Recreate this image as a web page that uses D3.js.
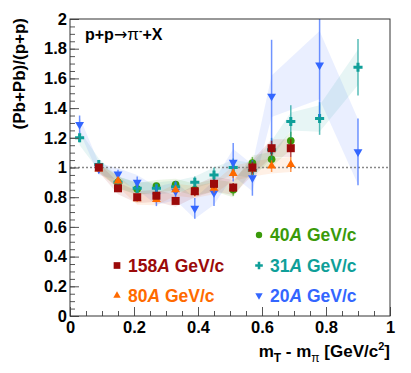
<!DOCTYPE html>
<html>
<head>
<meta charset="utf-8">
<script src="https://cdn.jsdelivr.net/npm/d3@7"></script>
<style>
  body { margin: 0; background: #fff; }
  svg text { font-family: "Liberation Sans", Arial, Helvetica, sans-serif; font-weight: bold; }
</style>
</head>
<body>
<div id="chart"></div>
<script>
// Rapport (Pb+Pb)/(p+p) des pi- en fonction de mT - m_pi

const width = 411;
const height = 373;

// bins en mT - m_pi
const mtBins = [0.03, 0.09, 0.15, 0.21, 0.27, 0.33, 0.39, 0.45, 0.51, 0.57, 0.63, 0.69, 0.78, 0.90];

// 158A GeV/c
const r158 = [null, 1.00, 0.86, 0.80, 0.81, 0.775, 0.84, 0.89, 0.865, 1.00, 1.13, 1.13, null, null];
const e158 = [null, 0.01, 0.02, 0.02, 0.02, 0.02, 0.03, 0.03, 0.03, 0.04, 0.05, 0.06, null, null];
const s158 = [null, 0.03, 0.04, 0.04, 0.04, 0.04, 0.04, 0.05, 0.05, 0.05, 0.06, 0.06, null, null];
// 80A GeV/c
const r80 = [null, 0.99, 0.91, 0.79, 0.785, 0.85, 0.835, 0.86, 0.96, 0.99, 1.01, 1.02, null, null];
const e80 = [null, 0.01, 0.02, 0.02, 0.02, 0.02, 0.03, 0.03, 0.03, 0.04, 0.04, 0.05, null, null];
const s80 = [null, 0.03, 0.04, 0.04, 0.04, 0.04, 0.04, 0.04, 0.05, 0.05, 0.05, 0.05, null, null];
// 40A GeV/c
const r40 = [null, 1.00, 0.90, 0.855, 0.875, 0.885, 0.85, 0.88, 0.85, 1.03, 1.055, 1.18, null, null];
const e40 = [null, 0.01, 0.02, 0.02, 0.02, 0.02, 0.03, 0.03, 0.04, 0.04, 0.05, 0.06, null, null];
const s40 = [null, 0.03, 0.04, 0.04, 0.04, 0.04, 0.04, 0.04, 0.05, 0.05, 0.05, 0.06, null, null];
// 31A GeV/c
const r31 = [1.20, 1.02, 0.90, 0.86, 0.86, 0.87, 0.90, 0.95, 1.00, 0.98, 1.12, 1.31, 1.33, 1.675];
const e31 = [0.03, 0.02, 0.02, 0.03, 0.03, 0.03, 0.04, 0.05, 0.06, 0.07, 0.08, 0.11, 0.11, 0.19];
const s31 = [0.05, 0.04, 0.04, 0.04, 0.04, 0.04, 0.04, 0.05, 0.05, 0.05, 0.06, 0.06, 0.09, 0.12];
// 20A GeV/c
const r20 = [1.29, 0.99, 0.955, 0.90, 0.81, 0.84, 0.725, 0.83, 1.035, 0.93, 1.48, null, 1.69, 1.105];
const e20 = [0.06, 0.03, 0.03, 0.04, 0.07, 0.07, 0.07, 0.09, 0.13, 0.12, 0.38, null, 0.35, 0.225];
const s20 = [0.05, 0.04, 0.04, 0.05, 0.06, 0.06, 0.07, 0.08, 0.09, 0.09, 0.14, null, 0.23, 0.22];

const series = [
  { label: "40", ratio: r40, stat: e40, sys: s40, color: "#3a9a0a", shape: "circle" },
  { label: "31", ratio: r31, stat: e31, sys: s31, color: "#0f9f99", shape: "cross" },
  { label: "20", ratio: r20, stat: e20, sys: s20, color: "#3366ff", shape: "down" },
  { label: "80", ratio: r80, stat: e80, sys: s80, color: "#ff6a00", shape: "up" },
  { label: "158", ratio: r158, stat: e158, sys: s158, color: "#9b0a0a", shape: "square" }
];

const margin = { left: 70, top: 19, right: 21, bottom: 57 };

const x = d3.scaleLinear().domain([0, 1]).range([margin.left, width - margin.right]);
const y = d3.scaleLinear().domain([0, 2]).range([height - margin.bottom, margin.top]);

const svg = d3.select("#chart")
  .append("svg")
  .attr("width", width)
  .attr("height", height);

svg.append("clipPath").attr("id", "clip")
  .append("rect")
  .attr("x", x(0)).attr("y", y(2))
  .attr("width", x(1) - x(0)).attr("height", y(0) - y(2));

const plot = svg.append("g").attr("clip-path", "url(#clip)");

const points = s => mtBins
  .map((m, i) => ({ x: m, y: s.ratio[i], e: s.stat[i], s: s.sys[i] }))
  .filter(d => d.y != null);

// bandes systematiques
const area = d3.area()
  .x(d => x(d.x))
  .y0(d => y(d.y - d.s))
  .y1(d => y(d.y + d.s));

const bandOrder = ["20", "31", "40", "80", "158"];
bandOrder.forEach(lab => {
  const s = series.find(t => t.label === lab);
  plot.append("path")
    .datum(points(s))
    .attr("d", area)
    .attr("fill", s.color)
    .attr("fill-opacity", 0.1);
});

// ligne a 1
plot.append("line")
  .attr("x1", x(0)).attr("x2", x(1))
  .attr("y1", y(1)).attr("y2", y(1))
  .attr("stroke", "#888")
  .attr("stroke-width", 1.5)
  .attr("stroke-dasharray", "2,2");

const symbolFor = (shape, big) => {
  const k = big ? 1 : 0.7;
  if (shape === "square") return d3.symbol(d3.symbolSquare, 64 * k);
  if (shape === "circle") return d3.symbol(d3.symbolCircle, 46 * k);
  if (shape === "cross") return d3.symbol(d3.symbolCross, 46 * k);
  return d3.symbol(d3.symbolTriangle, 34 * k);
};

series.forEach(s => {
  const g = plot.append("g");
  const pts = points(s);
  g.selectAll("line")
    .data(pts)
    .enter().append("line")
    .attr("x1", d => x(d.x)).attr("x2", d => x(d.x))
    .attr("y1", d => y(d.y - d.e)).attr("y2", d => y(d.y + d.e))
    .attr("stroke", s.color)
    .attr("stroke-opacity", 0.7)
    .attr("stroke-width", 1.5);
  g.selectAll("path")
    .data(pts)
    .enter().append("path")
    .attr("d", symbolFor(s.shape, true))
    .attr("fill", s.color)
    .attr("transform", d => `translate(${x(d.x)},${y(d.y)})` + (s.shape === "down" ? " rotate(180)" : ""));
});

// axes
const xAxis = d3.axisBottom(x).tickValues(d3.range(0, 1.01, 0.2))
  .tickSize(-9).tickPadding(5).tickFormat(d3.format("~g"));
const xMinor = d3.axisBottom(x).tickValues(d3.range(0, 1.01, 0.05))
  .tickSize(-5).tickFormat("");
const yAxis = d3.axisLeft(y).tickValues(d3.range(0, 2.01, 0.2))
  .tickSize(-9).tickPadding(3).tickFormat(d3.format("~g"));
const yMinor = d3.axisLeft(y).tickValues(d3.range(0, 2.01, 0.05))
  .tickSize(-5).tickFormat("");

[xMinor, xAxis].forEach(a => {
  svg.append("g").attr("transform", `translate(0,${y(0)})`).call(a);
});
[yMinor, yAxis].forEach(a => {
  svg.append("g").attr("transform", `translate(${x(0)},0)`).call(a);
});
svg.selectAll(".domain").remove();
svg.selectAll(".tick line").attr("stroke", "#555");
svg.selectAll(".tick text")
  .attr("font-size", 16.5)
  .attr("font-family", null)
  .attr("fill", "#000");

// cadre
svg.append("rect")
  .attr("x", x(0)).attr("y", y(2))
  .attr("width", x(1) - x(0)).attr("height", y(0) - y(2))
  .attr("fill", "none")
  .attr("stroke", "#333")
  .attr("stroke-width", 1);

// titres des axes
const xt = svg.append("text")
  .attr("x", x(1)).attr("y", 357)
  .attr("text-anchor", "end")
  .attr("font-size", 17);
xt.append("tspan").text("m");
xt.append("tspan").attr("dy", 5).attr("font-size", 12).text("T");
xt.append("tspan").attr("dy", -5).text(" - m");
xt.append("tspan").attr("dy", 5).attr("font-size", 12).attr("font-weight", "normal").text("π");
xt.append("tspan").attr("dy", -5).text(" [GeV/c");
xt.append("tspan").attr("dy", -7).attr("font-size", 11).text("2");
xt.append("tspan").attr("dy", 7).text("]");

svg.append("text")
  .attr("transform", "translate(25,18) rotate(-90)")
  .attr("text-anchor", "end")
  .attr("font-size", 17)
  .text("(Pb+Pb)/(p+p)");

// titre de la reaction
const tt = svg.append("text")
  .attr("x", 85).attr("y", 40)
  .attr("font-size", 16);
tt.append("tspan").text("p+p");
tt.append("tspan").attr("font-weight", "normal").attr("font-family", "DejaVu Sans").text("→");
tt.append("tspan").attr("font-weight", "normal").attr("font-size", 17).text("π");
tt.append("tspan").attr("dy", -6).attr("font-size", 10).text("-");
tt.append("tspan").attr("dy", 6).text("+X");

// legende
const legendPos = {
  "158": [117, 265.5], "80": [117, 295.5],
  "40": [259, 235], "31": [259, 265.5], "20": [259, 295.5]
};
series.forEach(s => {
  const [lx, ly] = legendPos[s.label];
  svg.append("path")
    .attr("d", symbolFor(s.shape, false))
    .attr("fill", s.color)
    .attr("transform", `translate(${lx},${ly})` + (s.shape === "down" ? " rotate(180)" : ""));
  const t = svg.append("text")
    .attr("x", lx + 11).attr("y", ly + 6)
    .attr("font-size", 17.5)
    .attr("fill", s.color);
  t.append("tspan").text(s.label);
  t.append("tspan").attr("font-style", "italic").text("A");
  t.append("tspan").text(" GeV/c");
});
</script>
</body>
</html>
